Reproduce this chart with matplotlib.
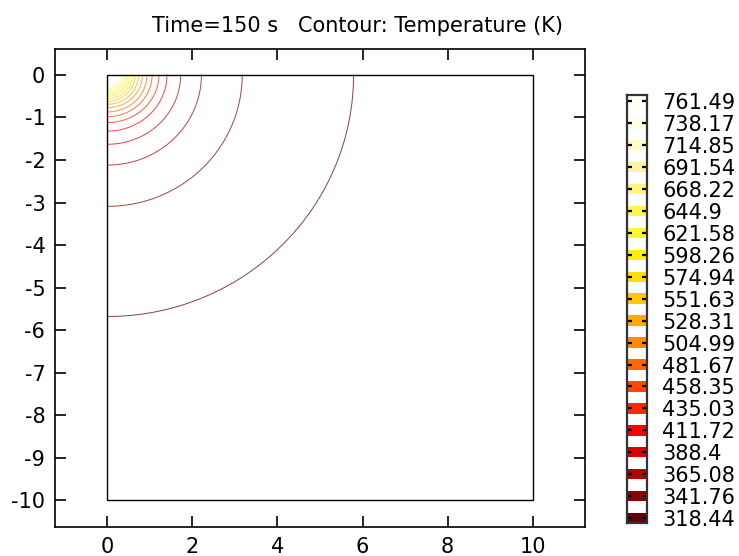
import numpy as np
import matplotlib
matplotlib.use("Agg")
import matplotlib.pyplot as plt
from matplotlib.patches import Rectangle

# contour levels shown in the legend bar (K)
levels = [318.44, 341.76, 365.08, 388.4, 411.72, 435.03, 458.35, 481.67,
          504.99, 528.31, 551.63, 574.94, 598.26, 621.58, 644.9, 668.22,
          691.54, 714.85, 738.17, 761.49]
# where each contour meets the x axis (top edge) and the y axis (left edge)
radii_x = [5.79, 3.17, 2.21, 1.72, 1.40, 1.21, 1.05, 0.93, 0.82, 0.73,
           0.65, 0.59, 0.53, 0.48, 0.43, 0.39, 0.35, 0.31, 0.27, 0.23]
radii_y = [5.68, 3.09, 2.12, 1.63, 1.32, 1.12, 0.98, 0.87, 0.77, 0.69,
           0.62, 0.56, 0.50, 0.45, 0.41, 0.37, 0.33, 0.29, 0.26, 0.22]
domain_w = 10
domain_h = 10
x_ticks = [0, 2, 4, 6, 8, 10]
y_ticks = [0, -1, -2, -3, -4, -5, -6, -7, -8, -9, -10]

level_colors = ['#640000', '#8c0000', '#b40000', '#dc0000', '#ff0000',
                '#ff2800', '#ff4800', '#ff6800', '#ff8c00', '#ffaa00',
                '#ffc800', '#ffe000', '#fff000', '#fff530', '#fff550',
                '#fff580', '#fff5a0', '#fffac8', '#fffde2', '#fffff6']

plt.rcParams['axes.unicode_minus'] = False
fs = 15
fig = plt.figure(figsize=(7.39, 5.56), dpi=100)
ax = fig.add_axes([55 / 739, 1 - 527 / 556, 530 / 739, 478 / 556])

theta = np.linspace(-np.pi / 2, 0, 300)
for rx, ry, c in zip(radii_x, radii_y, level_colors):
    ax.plot(rx * np.cos(theta), ry * np.sin(theta), color=c, lw=0.7,
            alpha=0.75)

ax.add_patch(Rectangle((0, -domain_h), domain_w, domain_h, fill=False,
                       edgecolor='black', lw=1.0, zorder=3))

ax.set_xlim(-1.235, 11.235)
ax.set_ylim(-10.63, 0.61)
ax.set_xticks(x_ticks)
ax.set_yticks(y_ticks)
ax.tick_params(direction='in', length=8, width=1.2, top=True, right=True,
               labelsize=fs, pad=7)
for s in ax.spines.values():
    s.set_linewidth(1.2)

fig.text(358 / 739, 1 - 26 / 556, 'Time=150 s   Contour: Temperature (K)',
         ha='center', va='center', fontsize=fs)

# legend bar
cax = fig.add_axes([627 / 739, 1 - 523 / 556, 20 / 739, 428 / 556])
d = levels[1] - levels[0]
for lev, c in zip(levels, level_colors):
    cax.axhspan(lev - 0.23 * d, lev + 0.23 * d, color=c, lw=0)
    cax.hlines(lev, 0, 0.26, color='black', lw=1.6)
    cax.hlines(lev, 0.74, 1, color='black', lw=1.6)
cax.set_xlim(0, 1)
cax.set_ylim(levels[0] - 0.21 * d, levels[-1] + 0.26 * d)
cax.set_xticks([])
cax.yaxis.tick_right()
cax.set_yticks(levels)
cax.set_yticklabels(['%g' % v for v in levels])
cax.tick_params(axis='y', length=0, pad=11, labelsize=fs)
for s in cax.spines.values():
    s.set_linewidth(1.6)
    s.set_color('#333333')

fig.savefig('out.png', dpi=100)
